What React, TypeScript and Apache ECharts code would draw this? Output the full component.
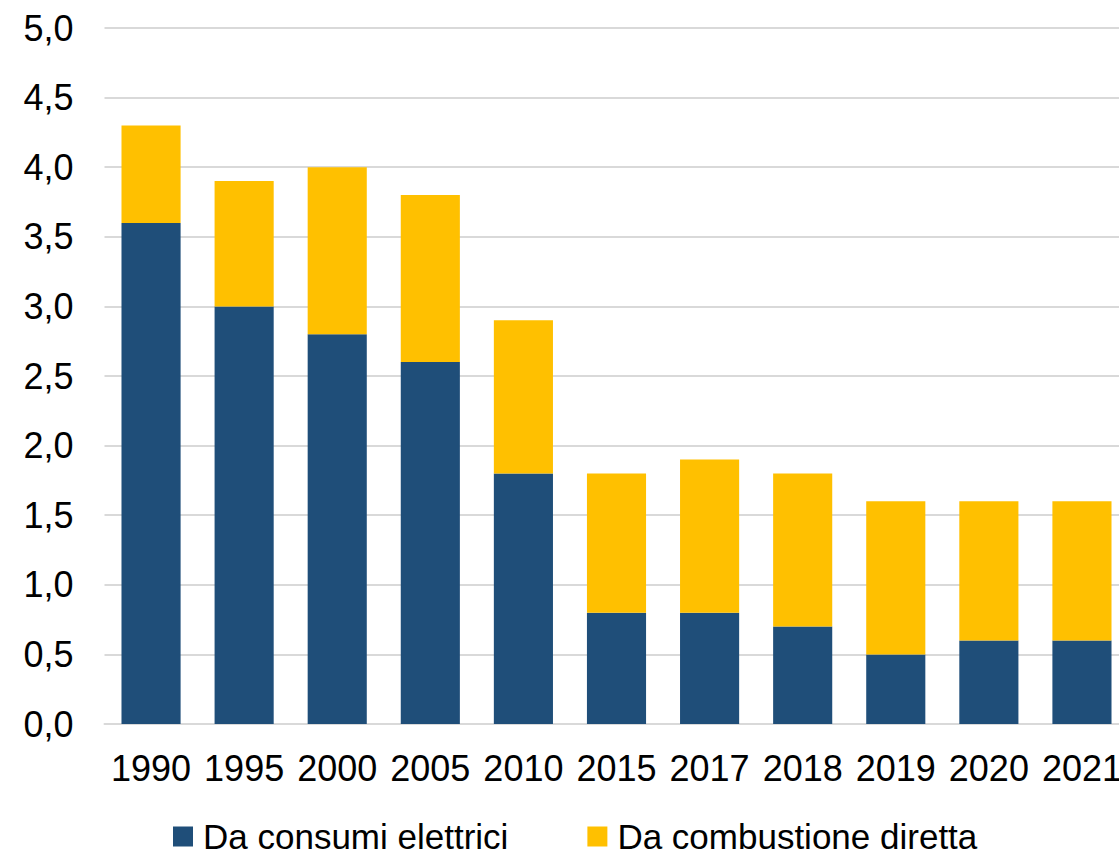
import React, { useEffect, useRef } from "react";
import * as echarts from "echarts";

const years = ["1990", "1995", "2000", "2005", "2010", "2015", "2017", "2018", "2019", "2020", "2021"];
const elettrici = [3.6, 3.0, 2.8, 2.6, 1.8, 0.8, 0.8, 0.7, 0.5, 0.6, 0.6];
const combustione = [0.7, 0.9, 1.2, 1.2, 1.1, 1.0, 1.1, 1.1, 1.1, 1.0, 1.0];
const seriesNames = ["Da consumi elettrici", "Da combustione diretta"];
const colors = ["#1F4E79", "#FFC000"];

const FONT = "'Liberation Sans', Arial, sans-serif";

export default function App() {
  const ref = useRef<HTMLDivElement>(null);

  useEffect(() => {
    if (!ref.current) return;
    const chart = echarts.init(ref.current, null, { renderer: "svg" });
    chart.setOption({
      animation: false,
      backgroundColor: "#ffffff",
      textStyle: { fontFamily: FONT },
      grid: {
        left: 104.5,
        width: 1024,
        top: 28,
        bottom: 125,
        containLabel: false,
        outerBoundsMode: "none",
      },
      legend: {
        data: seriesNames,
        left: 168,
        top: 814,
        icon: "rect",
        itemWidth: 20,
        itemHeight: 20,
        itemGap: 79,
        textStyle: { fontFamily: FONT, fontSize: 35, color: "#000", padding: [0, 0, 0, 5] },
      },
      xAxis: {
        type: "category",
        data: years,
        axisLine: { show: true, lineStyle: { color: "#D9D9D9", width: 2 } },
        axisTick: { show: false },
        axisLabel: { fontFamily: FONT, fontSize: 36, color: "#000", margin: 26, interval: 0 },
      },
      yAxis: {
        type: "value",
        min: 0,
        max: 5,
        interval: 0.5,
        axisLine: { show: false },
        axisTick: { show: false },
        splitLine: { lineStyle: { color: "#D9D9D9", width: 2 } },
        axisLabel: {
          fontFamily: FONT,
          fontSize: 36,
          color: "#000",
          margin: 31,
          formatter: (v: number) => v.toFixed(1).replace(".", ","),
        },
      },
      series: [
        {
          name: seriesNames[0],
          type: "bar",
          stack: "total",
          data: elettrici,
          barWidth: "63.5%",
          itemStyle: { color: colors[0] },
        },
        {
          name: seriesNames[1],
          type: "bar",
          stack: "total",
          data: combustione,
          itemStyle: { color: colors[1] },
        },
      ],
    });
    return () => chart.dispose();
  }, []);

  return (
    <div
      ref={ref}
      style={{ position: "absolute", left: 0, top: 0, width: 1119, height: 849 }}
    />
  );
}
